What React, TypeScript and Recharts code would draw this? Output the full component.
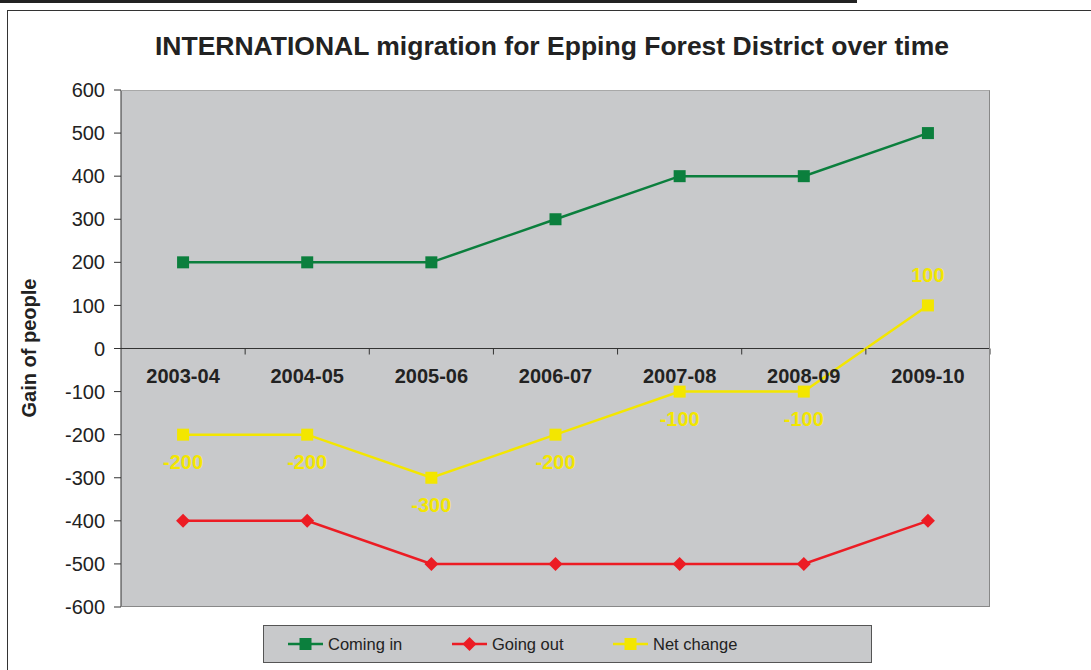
import React from 'react';
import { LineChart, Line, XAxis, YAxis, CartesianGrid, ReferenceLine } from 'recharts';

// data
const years = ['2003-04', '2004-05', '2005-06', '2006-07', '2007-08', '2008-09', '2009-10'];
const comingIn = [200, 200, 200, 300, 400, 400, 500];
const goingOut = [-400, -400, -500, -500, -500, -500, -400];
const netChange = [-200, -200, -300, -200, -100, -100, 100];
const yTicks = [-600, -500, -400, -300, -200, -100, 0, 100, 200, 300, 400, 500, 600];

const data = years.map((year, i) => ({
  year,
  comingIn: comingIn[i],
  goingOut: goingOut[i],
  netChange: netChange[i],
}));

const FONT = '"Liberation Sans", Arial, sans-serif';
const W = 1091;
const H = 670;
const PLOT = { left: 121, top: 90, right: 990, bottom: 607 };
const Y_AXIS_W = 60;
const zeroY = PLOT.top + ((PLOT.bottom - PLOT.top) * 600) / 1200;
const band = (PLOT.right - PLOT.left) / years.length;

const GREEN = '#0b7f3d';
const RED = '#ec1c24';
const YELLOW = '#f3e600';
const PLOT_BG = '#c8c9cb';

function SquareDot({ cx, cy, fill }: any) {
  if (cx == null || cy == null) return null;
  return <rect x={cx - 6} y={cy - 6} width={12} height={12} fill={fill} />;
}

function DiamondDot({ cx, cy, fill }: any) {
  if (cx == null || cy == null) return null;
  return <polygon points={`${cx},${cy - 7} ${cx + 7},${cy} ${cx},${cy + 7} ${cx - 7},${cy}`} fill={fill} />;
}

function YearTick({ x, payload }: any) {
  return (
    <g>
      <line x1={x + band / 2} x2={x + band / 2} y1={zeroY} y2={zeroY + 6} stroke="#333" strokeWidth={1} />
      <text x={x} y={zeroY + 34} textAnchor="middle" fontFamily={FONT} fontWeight="bold" fontSize={20} fill="#222">
        {payload.value}
      </text>
    </g>
  );
}

function NetLabel({ x, y, value }: any) {
  if (x == null || y == null) return null;
  return (
    <text x={x} y={value > 0 ? y - 23 : y + 34} textAnchor="middle" fontFamily={FONT} fontWeight="bold" fontSize={20} fill={YELLOW}>
      {value}
    </text>
  );
}

const series = [
  { key: 'comingIn', name: 'Coming in', color: GREEN, shape: 'square' },
  { key: 'goingOut', name: 'Going out', color: RED, shape: 'diamond' },
  { key: 'netChange', name: 'Net change', color: YELLOW, shape: 'square' },
];

function LegendIcon({ color, shape }: { color: string; shape: string }) {
  return (
    <svg width={35} height={14} style={{ display: 'block' }}>
      <line x1={0} x2={35} y1={7} y2={7} stroke={color} strokeWidth={2.5} />
      {shape === 'diamond' ? (
        <polygon points="17.5,0 24.5,7 17.5,14 10.5,7" fill={color} />
      ) : (
        <rect x={11.5} y={1} width={12} height={12} fill={color} />
      )}
    </svg>
  );
}

const legendLefts = [24, 188, 349];

export default function App() {
  return (
    <div style={{ position: 'absolute', left: 0, top: 0, width: W, height: H, background: '#fff', overflow: 'hidden', fontFamily: FONT }}>
      {/* page frame */}
      <div style={{ position: 'absolute', left: 0, top: 0, width: 857, height: 3, background: '#222' }} />
      <div style={{ position: 'absolute', left: 7, top: 10, width: W, height: H, borderLeft: '1.5px solid #333', borderTop: '1.5px solid #333' }} />

      <div
        style={{
          position: 'absolute',
          left: 0,
          top: 33,
          width: 1104,
          textAlign: 'center',
          fontSize: 26.5,
          lineHeight: '26.5px',
          fontWeight: 'bold',
          color: '#222',
          whiteSpace: 'nowrap',
        }}
      >
        INTERNATIONAL migration for Epping Forest District over time
      </div>

      <div
        style={{
          position: 'absolute',
          left: 29,
          top: 348,
          transform: 'translate(-50%, -50%) rotate(-90deg)',
          fontSize: 20,
          fontWeight: 'bold',
          color: '#222',
          whiteSpace: 'nowrap',
        }}
      >
        Gain of people
      </div>

      <div style={{ position: 'absolute', left: 0, top: 0 }}>
        <LineChart
          width={W}
          height={H}
          data={data}
          margin={{ top: PLOT.top, right: W - PLOT.right, bottom: H - PLOT.bottom - 1, left: PLOT.left - Y_AXIS_W }}
        >
          <CartesianGrid horizontal={false} vertical={false} fill={PLOT_BG} />
          <XAxis
            dataKey="year"
            height={1}
            interval={0}
            axisLine={false}
            tickLine={false}
            tick={<YearTick />}
            padding={{ left: band / 2, right: band / 2 }}
          />
          <YAxis
            width={Y_AXIS_W}
            domain={[-600, 600]}
            ticks={yTicks}
            interval={0}
            tickSize={7}
            tickMargin={9}
            axisLine={{ stroke: '#333' }}
            tickLine={{ stroke: '#333' }}
            tick={{ fontSize: 20, fill: '#222', fontFamily: FONT }}
          />
          <ReferenceLine y={0} stroke="#333" strokeWidth={1.2} />
          {series.map((s) => (
            <Line
              key={s.key}
              dataKey={s.key}
              name={s.name}
              type="linear"
              stroke={s.color}
              strokeWidth={2.5}
              dot={s.shape === 'diamond' ? <DiamondDot fill={s.color} /> : <SquareDot fill={s.color} />}
              activeDot={false}
              label={s.key === 'netChange' ? <NetLabel /> : undefined}
              isAnimationActive={false}
            />
          ))}
        </LineChart>
      </div>

      {/* plot frame */}
      <div
        style={{
          position: 'absolute',
          left: PLOT.left,
          top: PLOT.top,
          width: PLOT.right - PLOT.left,
          height: PLOT.bottom - PLOT.top,
          borderTop: '1px solid #a8a8a8',
          borderRight: '1.5px solid #888',
          borderBottom: '1.5px solid #888',
          boxSizing: 'border-box',
          pointerEvents: 'none',
        }}
      />

      {/* legend */}
      <div
        style={{
          position: 'absolute',
          left: 263,
          top: 625,
          width: 609,
          height: 38,
          background: PLOT_BG,
          border: '1px solid #555',
          boxSizing: 'border-box',
        }}
      >
        {series.map((s, i) => (
          <div key={s.key} style={{ position: 'absolute', left: legendLefts[i], top: 0, height: 36, display: 'flex', alignItems: 'center', gap: 5 }}>
            <LegendIcon color={s.color} shape={s.shape} />
            <span style={{ fontSize: 16.5, color: '#222' }}>{s.name}</span>
          </div>
        ))}
      </div>
    </div>
  );
}
